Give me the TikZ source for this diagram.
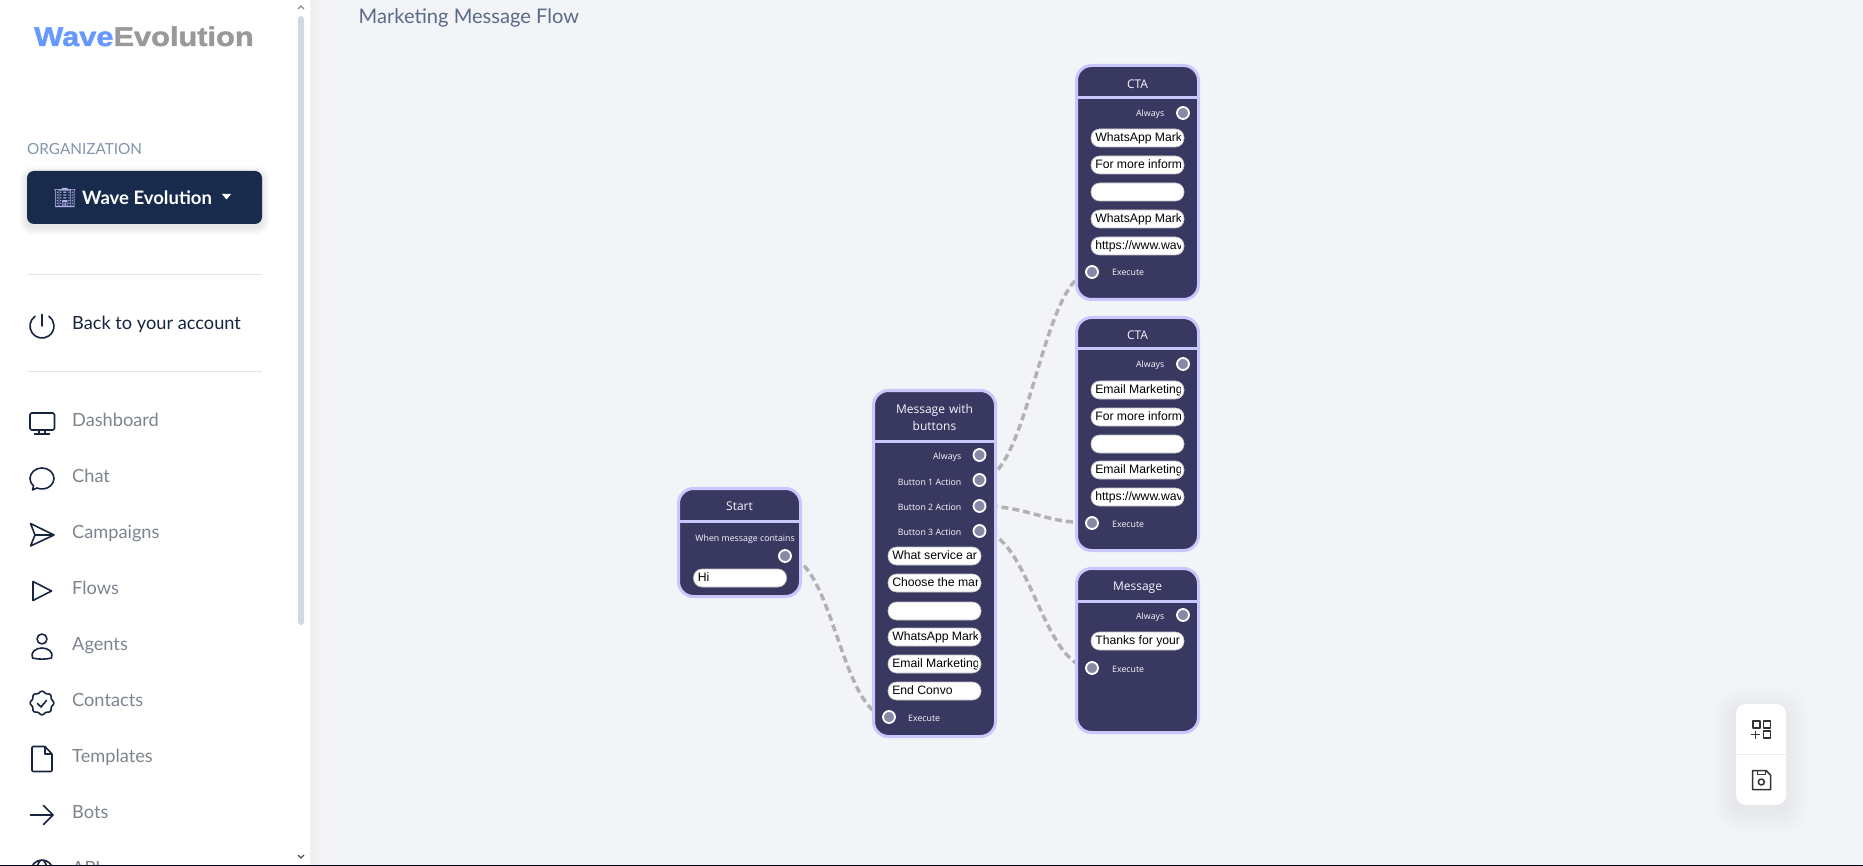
\documentclass[tikz,border=0pt]{standalone}
\usepackage{fontspec}
\setmainfont{Lato}
\newfontfamily\cardfont{Open Sans}
\newfontfamily\pillfont{Liberation Sans}
\newfontfamily\logofont[FakeStretch=1.14,BoldFeatures={FakeBold=1.6,FakeStretch=1.14}]{Liberation Sans}
\newfontfamily\emojifont{Noto Emoji}
\usetikzlibrary{calc,positioning}
\definecolor{pagebg}{HTML}{F3F4F7}
\definecolor{cardfill}{HTML}{393860}
\definecolor{cardedge}{HTML}{CAC7FF}
\definecolor{socketfill}{HTML}{8A88A6}
\definecolor{wirecolor}{HTML}{B2B2B4}
\definecolor{navy}{HTML}{182B4D}
\definecolor{icondark}{HTML}{16243F}
\definecolor{menutext}{HTML}{7C858F}
\definecolor{orgtext}{HTML}{8395AC}
\definecolor{flowtext}{HTML}{5A6A88}
\definecolor{thumb}{HTML}{CFD9E3}
\definecolor{rulegray}{HTML}{E3E5E8}
\newcommand{\fsz}[1]{\fontsize{#1}{#1}\selectfont}
\pgfdeclarelayer{under}
\pgfsetlayers{under,main}
\tikzset{
  card/.style={draw=cardedge,fill=cardfill,line width=3pt,rounded corners=15pt,minimum width=122pt,minimum height=#1,inner sep=0pt},
  cardline/.style={draw=cardedge,line width=3pt},
  cardtitle/.style={text=white!85!cardedge,font=\cardfont\fsz{12},align=center,inner sep=0pt},
  outlabel/.style={text=white!92!cardedge,font=\cardfont\fsz{8.8},inner sep=0pt,text height=7pt,text depth=2pt,anchor=east},
  inlabel/.style={outlabel,anchor=west},
  socket/.style={circle,draw=white,fill=socketfill,line width=1.8pt,minimum size=12pt,inner sep=0pt},
  pill/.style={draw=white!75!black,fill=white,line width=.6pt,rounded corners=8.5pt,minimum width=93pt,minimum height=18pt,inner sep=0pt,
    path picture={\clip ([xshift=2pt]path picture bounding box.south west) rectangle ([xshift=-3.5pt]path picture bounding box.north east);
      \node[anchor=west,draw=none,fill=none,minimum width=0pt,minimum height=0pt,inner sep=0pt,sharp corners,text=black,font=\pillfont\fsz{12.2}] at ([xshift=4pt,yshift=-1.2pt]path picture bounding box.west) {\strut #1};}},
  wire/.style={draw=wirecolor,line width=3.5pt,dash pattern=on 7pt off 4pt},
  menuitem/.style={text=menutext,font=\fsz{18.2},anchor=base west,inner sep=0pt},
  menuicon/.style={draw=icondark,line width=1.6pt,line join=round,line cap=round},
  panelicon/.style={draw=black!80,line width=1.5pt,line join=round}
}
\begin{document}
\begin{tikzpicture}[x=1pt,y=-1pt]
  \useasboundingbox (0,0) rectangle (1863,866);
  \begin{scope}
  \clip (0,0) rectangle (1863,866);
  \begin{pgfonlayer}{under}
    \fill[pagebg] (0,0) rectangle (1863,866);
    \shade[left color=black!6,right color=pagebg,shading angle=90] (310,0) rectangle (324,866);
    \fill[white] (0,0) rectangle (310,866);
  \end{pgfonlayer}

  % sidebar
  \node[anchor=base west,inner sep=0pt,font=\logofont\bfseries\fsz{27}] (logo) at (34,46) {\textcolor[HTML]{6699FF}{Wave}\textcolor[HTML]{999999}{Evolution}};
  \node[anchor=base west,inner sep=0pt,text=orgtext,font=\fsz{15.3}] (orglabel) at (27,155) {ORGANIZATION};
  \node[fill=navy,rounded corners=7pt,minimum width=235pt,minimum height=53pt,inner sep=0pt] (orgbutton) at (144.5,197.5) {};
  \node[anchor=base west,inner sep=0pt,text=white,font=\bfseries\fsz{18.5}] (orgname) at (82,205) {Wave Evolution};
  \node[inner sep=0pt,text=white!75!blue!80!gray,font=\emojifont\fsz{19}] (orgemoji) at (65,198) {🏢};
  \fill[white] (222,194) -- (231,194) -- (226.5,199.5) -- cycle;
  \draw[rulegray,line width=.9pt] (27,274.5) -- (262,274.5);
  \draw[rulegray,line width=.9pt] (27,371.5) -- (262,371.5);
  \node[menuitem,text=icondark] (back) at (72,329.5) {Back to your account};
  \draw[menuicon] (35.1,316.2) arc[start angle=-125,end angle=-415,radius=12];
  \draw[menuicon] (42,314.5) -- (42,326);

  \node[menuitem] (dashboard) at (72,426.5) {Dashboard};
  \node[menuitem] (chat) at (72,482.5) {Chat};
  \node[menuitem] (campaigns) at (72,538.5) {Campaigns};
  \node[menuitem] (flows) at (72,594.5) {Flows};
  \node[menuitem] (agents) at (72,650.5) {Agents};
  \node[menuitem] (contacts) at (72,706.5) {Contacts};
  \node[menuitem] (templates) at (72,762.5) {Templates};
  \node[menuitem] (bots) at (72,818.5) {Bots};
  \node[menuitem] (api) at (72,874.5) {API};

  % menu icons
  \draw[menuicon,rounded corners=1.5pt] (30,413) rectangle (54.5,430);
  \draw[menuicon] (39,430) -- (39,433.5) (45,430) -- (45,433.5) (34.5,434) -- (49.5,434);
  \draw[menuicon] (33.5,485.9) arc[start angle=135,end angle=475,x radius=12,y radius=10.5] -- (32.5,490) -- cycle;
  \draw[menuicon] (30.5,523.5) -- (54,535) -- (30.5,546) -- (35,535) -- cycle (35,535) -- (54,535);
  \draw[menuicon] (33,581.5) -- (51.5,591) -- (33,600.5) -- cycle;
  \draw[menuicon] (42,639) circle[radius=5pt];
  \draw[menuicon] (32.5,658) .. controls (30,652) and (36,648) .. (42,648) .. controls (48,648) and (54,652) .. (51.5,658) .. controls (46,659.5) and (38,659.5) .. (32.5,658) -- cycle;
  \draw[menuicon,smooth,samples=65,domain=0:360] plot ({42+(11+.8*cos(8*\x))*cos(\x)},{703+(11+.8*cos(8*\x))*sin(\x)});
  \draw[menuicon] (37.5,703.5) -- (41,707) -- (46.5,700.5);
  \draw[menuicon,rounded corners=1pt] (32,746.5) -- (45,746.5) -- (52,754) -- (52,771.5) -- (32,771.5) -- cycle;
  \draw[menuicon] (45,746.5) -- (45,754) -- (52,754);
  \draw[menuicon] (30.5,815) -- (53,815) (43.5,805.5) -- (53,815) -- (43.5,824.5);
  \draw[menuicon] (42,871) circle[radius=11pt] (42,871) ellipse[x radius=5pt,y radius=11pt];

  % scrollbar
  \fill[thumb,rounded corners=3pt] (298,16) rectangle (304,625);
  \draw[black!45,line width=1.3pt] (298,9) -- (301,6) -- (304,9);
  \draw[black!70,line width=1.3pt] (298,855) -- (301,858) -- (304,855);

  \node[anchor=base west,inner sep=0pt,text=flowtext,font=\fsz{20.1}] (flowtitle) at (358.5,23.5) {Marketing Message Flow};

  % Start
  \node[card=108pt] (startcard) at (739.5,542.5) {};
  \draw[cardline] (startcard.west |- 0,521) -- (startcard.east |- 0,521);
  \node[cardtitle] (starttitle) at (739.5,506) {Start};
  \node[outlabel] (startlabel) at (795,538.5) {When message contains};
  \node[socket] (startout) at (785,556) {};
  \node[pill=Hi] (startpill) at (740,578) {};

  % Message with buttons
  \node[card=346pt] (msgcard) at (934.5,563.5) {};
  \draw[cardline] (msgcard.west |- 0,441) -- (msgcard.east |- 0,441);
  \node[cardtitle,text width=100pt] (msgtitle) at (934.5,417.5) {Message with\\[5pt]buttons};
  \node[outlabel] (msglabela) at (961.5,456.5) {Always};
  \node[outlabel] (msglabelb) at (961.5,482.5) {Button 1 Action};
  \node[outlabel] (msglabelc) at (961.5,507.5) {Button 2 Action};
  \node[outlabel] (msglabeld) at (961.5,532.5) {Button 3 Action};
  \node[socket] (msgalways) at (979.5,455) {};
  \node[socket] (msgbtna) at (979.5,480) {};
  \node[socket] (msgbtnb) at (979.5,506) {};
  \node[socket] (msgbtnc) at (979.5,531) {};
  \node[pill=What service ar] (msgpilla) at (934.5,556) {};
  \node[pill=Choose the mar] (msgpillb) at (934.5,583) {};
  \node[pill={}] (msgpillc) at (934.5,611) {};
  \node[pill=WhatsApp Mark] (msgpilld) at (934.5,637) {};
  \node[pill=Email Marketing] (msgpille) at (934.5,664) {};
  \node[pill=End Convo] (msgpillf) at (934.5,691) {};
  \node[socket] (msgin) at (889,717) {};
  \node[inlabel] (msgexec) at (908,718.5) {Execute};

  % first CTA
  \node[card=234pt] (ctaonecard) at (1137.5,182.5) {};
  \draw[cardline] (ctaonecard.west |- 0,98) -- (ctaonecard.east |- 0,98);
  \node[cardtitle] (ctaonetitle) at (1137.5,84) {CTA};
  \node[outlabel] (ctaonealways) at (1164.5,114.5) {Always};
  \node[socket] (ctaoneout) at (1183,113) {};
  \node[pill=WhatsApp Mark] (ctaonepilla) at (1137.5,138) {};
  \node[pill=For more inform] (ctaonepillb) at (1137.5,165) {};
  \node[pill={}] (ctaonepillc) at (1137.5,192) {};
  \node[pill=WhatsApp Mark] (ctaonepilld) at (1137.5,219) {};
  \node[pill=https://www.wav] (ctaonepille) at (1137.5,246) {};
  \node[socket] (ctaonein) at (1092,272) {};
  \node[inlabel] (ctaoneexec) at (1112,273.5) {Execute};

  % second CTA
  \node[card=233pt] (ctatwocard) at (1137.5,434) {};
  \draw[cardline] (ctatwocard.west |- 0,349) -- (ctatwocard.east |- 0,349);
  \node[cardtitle] (ctatwotitle) at (1137.5,335) {CTA};
  \node[outlabel] (ctatwoalways) at (1164.5,365.5) {Always};
  \node[socket] (ctatwoout) at (1183,364) {};
  \node[pill=Email Marketing] (ctatwopilla) at (1137.5,390) {};
  \node[pill=For more inform] (ctatwopillb) at (1137.5,417) {};
  \node[pill={}] (ctatwopillc) at (1137.5,444) {};
  \node[pill=Email Marketing] (ctatwopilld) at (1137.5,470) {};
  \node[pill=https://www.wav] (ctatwopille) at (1137.5,497) {};
  \node[socket] (ctatwoin) at (1092,523) {};
  \node[inlabel] (ctatwoexec) at (1112,524.5) {Execute};

  % Message
  \node[card=164pt] (thankscard) at (1137.5,650.5) {};
  \draw[cardline] (thankscard.west |- 0,601) -- (thankscard.east |- 0,601);
  \node[cardtitle] (thankstitle) at (1137.5,588) {Message};
  \node[outlabel] (thanksalways) at (1164.5,617) {Always};
  \node[socket] (thanksout) at (1183,615) {};
  \node[pill=Thanks for your] (thankspill) at (1137.5,641) {};
  \node[socket] (thanksin) at (1092,668) {};
  \node[inlabel] (thanksexec) at (1112,669.5) {Execute};

  % connectors go under the cards
  \begin{pgfonlayer}{under}
    \draw[wire] (startout.center) .. controls +(48,0) and +(-48,0) .. (msgin.center);
    \draw[wire] (msgbtna.center) .. controls +(50,0) and +(-50,0) .. (ctaonein.center);
    \draw[wire] (msgbtnb.center) .. controls +(50,0) and +(-50,0) .. (ctatwoin.center);
    \draw[wire] (msgbtnc.center) .. controls +(50,0) and +(-50,0) .. (thanksin.center);
  \end{pgfonlayer}

  % floating panel
  \node[fill=white,rounded corners=10pt,minimum width=50pt,minimum height=101pt,inner sep=0pt] (toolpanel) at (1761,754.5) {};
  \begin{pgfonlayer}{under}
    \foreach \e in {2,4,...,24}
      \fill[black,opacity=.005,rounded corners=10pt+\e pt] ($(toolpanel.north west)+(-\e,6-\e)$) rectangle ($(toolpanel.south east)+(\e,6+\e)$);
    \foreach \e in {1,2,...,8}
      \fill[black,opacity=.012,rounded corners=7pt+\e pt] ($(orgbutton.north west)+(-\e,3-\e)$) rectangle ($(orgbutton.south east)+(\e,3+\e)$);
  \end{pgfonlayer}
  \draw[black!7,line width=.8pt] (toolpanel.west) -- (toolpanel.east);
  \draw[panelicon] (1753,721) rectangle (1760,728) (1763.5,721) rectangle (1770.5,728) (1763.5,731) rectangle (1770.5,738);
  \draw[panelicon] (1751,734.5) -- (1759.5,734.5) (1755.3,730.5) -- (1755.3,738.5);
  \draw[panelicon] (1752.5,770.5) -- (1766,770.5) -- (1770.5,775) -- (1770.5,789.5) -- (1752.5,789.5) -- cycle;
  \draw[panelicon] (1757.5,770.5) -- (1757.5,774.5) -- (1765.5,774.5) -- (1765.5,770.5);
  \draw[panelicon] (1761.3,782) circle[radius=3pt];

  \fill[black!88!blue] (0,865) rectangle (1863,866);
  \end{scope}
\end{tikzpicture}
\end{document}
